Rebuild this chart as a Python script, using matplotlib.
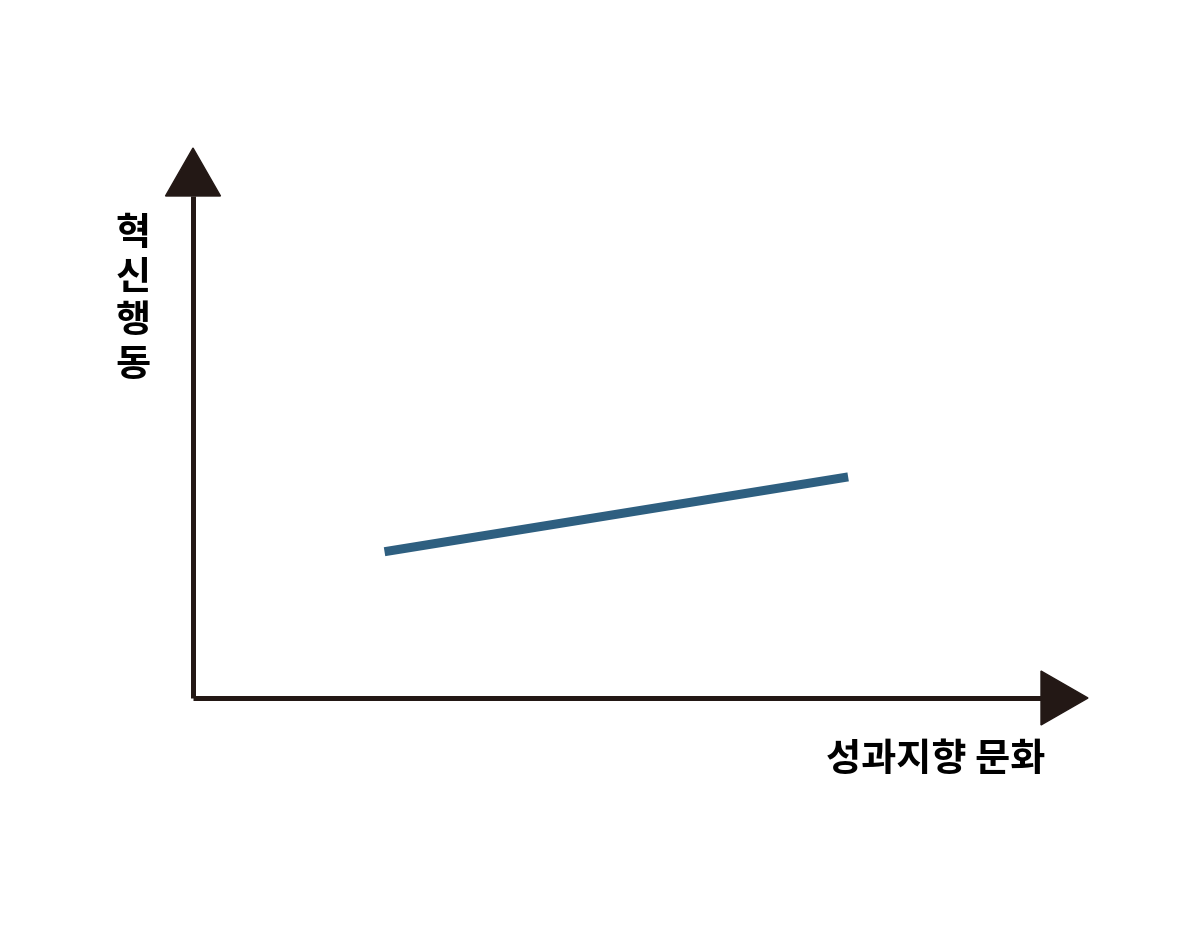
import matplotlib.pyplot as plt
from matplotlib.patches import Polygon

plt.rcParams['font.family'] = ['Noto Sans CJK KR', 'DejaVu Sans']

# labels
x_label = '성과지향 문화'
y_label = ['혁', '신', '행', '동']

# the single trend line (low -> high culture)
culture = [2.14, 7.32]
innovation = [2.66, 4.02]

ink = '#231815'
blue = '#2e5f80'

fig = plt.figure(figsize=(12, 9.34), dpi=100)
# axes box: origin at the corner of the arrows, top-right at the arrow tips
ax = fig.add_axes([193 / 1200, (934 - 698) / 934, (1088 - 193) / 1200, (698 - 148) / 934])
ax.set_xlim(0, 10)
ax.set_ylim(0, 10)
ax.axis('off')

ax.plot(culture, innovation, color=blue, lw=6.5, solid_capstyle='butt')

# axis lines with triangle heads
base_y = (698 - 196) / 550
base_x = (1041 - 193) / 895
ax.plot([0, 0], [0, base_y], color=ink, lw=3.6, transform=ax.transAxes,
        clip_on=False, solid_capstyle='butt')
ax.plot([0, base_x], [0, 0], color=ink, lw=3.6, transform=ax.transAxes,
        clip_on=False, solid_capstyle='butt')
hw_y = 27.5 / 895
ax.add_patch(Polygon([[-hw_y, base_y], [hw_y, base_y], [0, 1]], closed=True,
                     color=ink, transform=ax.transAxes, clip_on=False))
hw_x = 27 / 550
ax.add_patch(Polygon([[base_x, -hw_x], [base_x, hw_x], [1, 0]], closed=True,
                     color=ink, transform=ax.transAxes, clip_on=False))

fig.text(1045 / 1200, 1 - 760 / 934, x_label, ha='right', va='center',
         fontsize=27.5, fontweight='bold', color='black')
fig.text(133 / 1200, 1 - 299 / 934, '\n'.join(y_label), ha='center', va='center',
         fontsize=27.5, fontweight='bold', color='black', linespacing=1.15)

fig.savefig('out.png', dpi=100, facecolor='white')
